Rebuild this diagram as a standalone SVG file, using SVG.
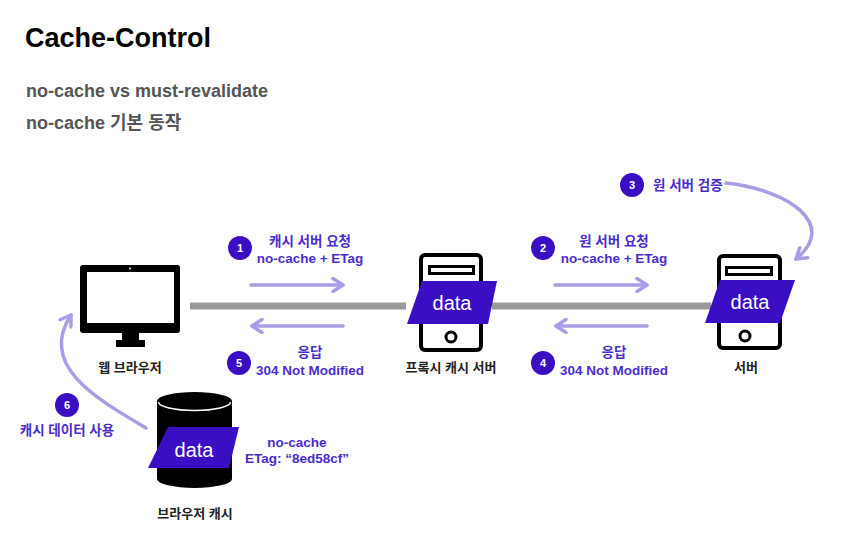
<svg xmlns="http://www.w3.org/2000/svg" width="857" height="548" viewBox="0 0 857 548">
<style>
text{font-family:"Liberation Sans","Noto Sans CJK KR",sans-serif;font-weight:bold}
.title{font-size:27px;fill:#000}
.sub{font-size:18px;fill:#555}
.lbl{font-size:13px;fill:#222;text-anchor:middle}
.pl{font-size:13.5px;fill:#4a2ccc;text-anchor:middle}
.badge{fill:#3a0fc4}
.bn{font-size:11px;fill:#fff;text-anchor:middle}
.data{fill:#3a0fc4}
.dt{font-size:20px;font-weight:normal;fill:#fff;text-anchor:middle}
.arr{fill:none;stroke:#a99de6;stroke-width:3.5;stroke-linecap:round}
.bus{stroke:#9a9a9a;stroke-width:7}
.srv{fill:#fff;stroke:#000;stroke-width:4}
.slot{fill:none;stroke:#000;stroke-width:3}
</style>
<defs>
<marker id="ah" markerUnits="userSpaceOnUse" viewBox="0 0 16 16" refX="13" refY="8" markerWidth="16" markerHeight="16" orient="auto">
<path d="M3,1.5 L13,8 L3,14.5" fill="none" stroke="#a99de6" stroke-width="3.5" stroke-linecap="round" stroke-linejoin="round"/>
</marker>
</defs>

<text class="title" x="25" y="47">Cache-Control</text>
<text class="sub" x="26" y="97">no-cache vs must-revalidate</text>
<text class="sub" x="26" y="129">no-cache 기본 동작</text>

<g id="connectors">
<line class="bus" x1="190" y1="306" x2="406" y2="306"/>
<line class="bus" x1="492" y1="306" x2="711" y2="306"/>
<line class="arr" x1="251" y1="285" x2="343" y2="285" marker-end="url(#ah)"/>
<line class="arr" x1="343" y1="326" x2="252" y2="326" marker-end="url(#ah)"/>
<line class="arr" x1="555" y1="285" x2="647" y2="285" marker-end="url(#ah)"/>
<line class="arr" x1="647" y1="326" x2="556" y2="326" marker-end="url(#ah)"/>
<path class="arr" d="M726,183 C790,190 838,225 796,259" marker-end="url(#ah)"/>
<path class="arr" d="M146,428 C95,398 38,365 71,315" marker-end="url(#ah)"/>
</g>

<g id="browser">
<rect x="80" y="265" width="100" height="68" rx="3" fill="#000"/>
<rect x="87" y="272" width="87" height="51" fill="#fff"/>
<circle cx="130" cy="268.5" r="1" fill="#fff"/>
<rect x="122" y="333" width="17" height="8" fill="#000"/>
<rect x="116" y="340" width="29" height="7" fill="#000"/>
<text class="lbl" x="130" y="372">웹 브라우저</text>
</g>

<g id="proxy">
<rect class="srv" x="421" y="255" width="60" height="95" rx="4"/>
<rect class="slot" x="429.5" y="266.5" width="44" height="7"/>
<circle class="slot" cx="451" cy="337" r="5"/>
<polygon class="data" points="422,281 497,281 488,324 407,324"/>
<text class="dt" x="452" y="310">data</text>
<text class="lbl" x="451" y="372">프록시 캐시 서버</text>
</g>

<g id="server">
<rect class="srv" x="719" y="256" width="61" height="92" rx="4"/>
<rect class="slot" x="726.5" y="267.5" width="45" height="7"/>
<circle class="slot" cx="745" cy="336" r="5"/>
<polygon class="data" points="720,280 795,280 780,323 705,323"/>
<text class="dt" x="750" y="309">data</text>
<text class="lbl" x="746" y="372">서버</text>
</g>

<g id="browser-cache">
<path d="M157,401 L157,479 A37.5,9 0 0 0 232,479 L232,401 A37.5,9 0 0 0 157,401 Z" fill="#000"/>
<path d="M158.5,402 A36,8.5 0 0 0 230.5,402" fill="none" stroke="#fff" stroke-width="1.5"/>
<polygon class="data" points="168,427 239,427 229,468 148,468"/>
<text class="dt" x="194" y="457">data</text>
<text class="pl" x="297" y="447">no-cache</text>
<text class="pl" x="297" y="463">ETag: “8ed58cf”</text>
<text class="lbl" x="195" y="518">브라우저 캐시</text>
</g>

<g id="step1">
<circle class="badge" cx="240" cy="248" r="12"/>
<text class="bn" x="240" y="252">1</text>
<text class="pl" x="310" y="246">캐시 서버 요청</text>
<text class="pl" x="310" y="263">no-cache + ETag</text>
</g>
<g id="step2">
<circle class="badge" cx="543" cy="248" r="12"/>
<text class="bn" x="543" y="252">2</text>
<text class="pl" x="614" y="246">원 서버 요청</text>
<text class="pl" x="614" y="263">no-cache + ETag</text>
</g>
<g id="step3">
<circle class="badge" cx="632" cy="185" r="12"/>
<text class="bn" x="632" y="189">3</text>
<text class="pl" x="653" y="190" style="text-anchor:start">원 서버 검증</text>
</g>
<g id="step4">
<circle class="badge" cx="543" cy="363" r="12"/>
<text class="bn" x="543" y="367">4</text>
<text class="pl" x="614" y="357">응답</text>
<text class="pl" x="614" y="375">304 Not Modified</text>
</g>
<g id="step5">
<circle class="badge" cx="239" cy="363" r="12"/>
<text class="bn" x="239" y="367">5</text>
<text class="pl" x="310" y="357">응답</text>
<text class="pl" x="310" y="375">304 Not Modified</text>
</g>
<g id="step6">
<circle class="badge" cx="67" cy="405" r="12"/>
<text class="bn" x="67" y="409">6</text>
<text class="pl" x="67" y="435">캐시 데이터 사용</text>
</g>
</svg>
